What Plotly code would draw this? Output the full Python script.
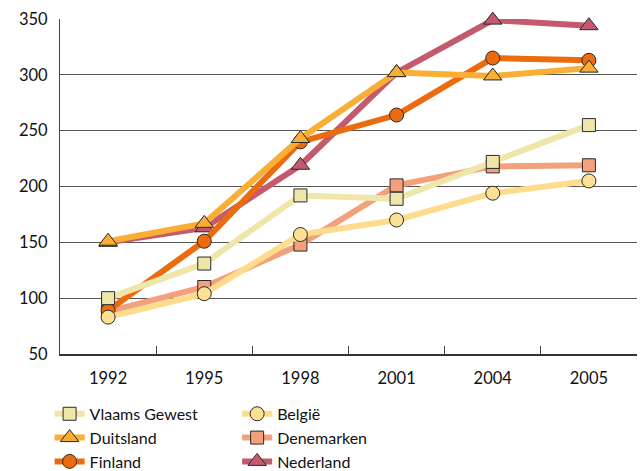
import plotly.graph_objects as go

years = ["1992", "1995", "1998", "2001", "2004", "2005"]

vlaams_gewest = [100, 131, 192, 189, 222, 255]
belgie = [83, 104, 157, 170, 194, 205]
duitsland = [151, 167, 243, 302, 299, 306]
finland = [89, 151, 240, 264, 315, 313]
denemarken = [88, 110, 148, 201, 218, 219]
nederland = [150, 163, 219, 302, 349, 344]

# (name, values, line colour, marker fill, symbol, size, legend, rank)
# listed in drawing order, bottom to top
series = [
    ("Nederland", nederland, "#c45a6e", "#c45a6e", "triangle-up", 16, "legend2", 3),
    ("Denemarken", denemarken, "#f3a17c", "#f3a17c", "square", 13, "legend2", 2),
    ("Finland", finland, "#eb6c0f", "#eb6c0f", "circle", 14, "legend", 3),
    ("België", belgie, "#fddc8c", "#fde094", "circle", 14, "legend2", 1),
    ("Vlaams Gewest", vlaams_gewest, "#efe6aa", "#efe6aa", "square", 13, "legend", 1),
    ("Duitsland", duitsland, "#f9ae35", "#f9ae35", "triangle-up", 16, "legend", 2),
]

fig = go.Figure()
for name, vals, lc, mc, sym, size, leg, rank in series:
    fig.add_trace(go.Scatter(
        x=years, y=vals, name=name, mode="lines+markers",
        line=dict(color=lc, width=6),
        marker=dict(symbol=sym, size=size, color=mc,
                    line=dict(color="#2a2a2a", width=1)),
        legend=leg, legendrank=rank, cliponaxis=False,
    ))

legend_style = dict(
    orientation="v", yanchor="top", xanchor="left",
    font=dict(size=16), itemwidth=30, bgcolor="rgba(0,0,0,0)",
    tracegroupgap=0,
)

fig.update_layout(
    width=641, height=471,
    margin=dict(l=60, r=4, t=19, b=117, autoexpand=False),
    paper_bgcolor="white", plot_bgcolor="white",
    font=dict(family="Lato", size=16.5, color="#111"),
    showlegend=True,
    legend=dict(x=-0.018, y=-0.128, **legend_style),
    legend2=dict(x=0.307, y=-0.128, **legend_style),
    xaxis=dict(
        type="category", range=[-0.5, len(years) - 0.5],
        showgrid=False, showline=True,
        linecolor="#333", linewidth=1.5,
        ticks="inside", tickson="boundaries", ticklen=8,
        tickcolor="#444", tickwidth=1.2,
        tickfont=dict(size=16.5), zeroline=False,
        ticklabelstandoff=8,
    ),
    yaxis=dict(
        range=[50, 350], dtick=50, showgrid=True, gridcolor="#555",
        gridwidth=1.2, showline=True, linecolor="#444", linewidth=1.2,
        ticks="", tickfont=dict(size=16.5), zeroline=False,
        ticklabelstandoff=8,
    ),
)

fig.write_html("out.html")
